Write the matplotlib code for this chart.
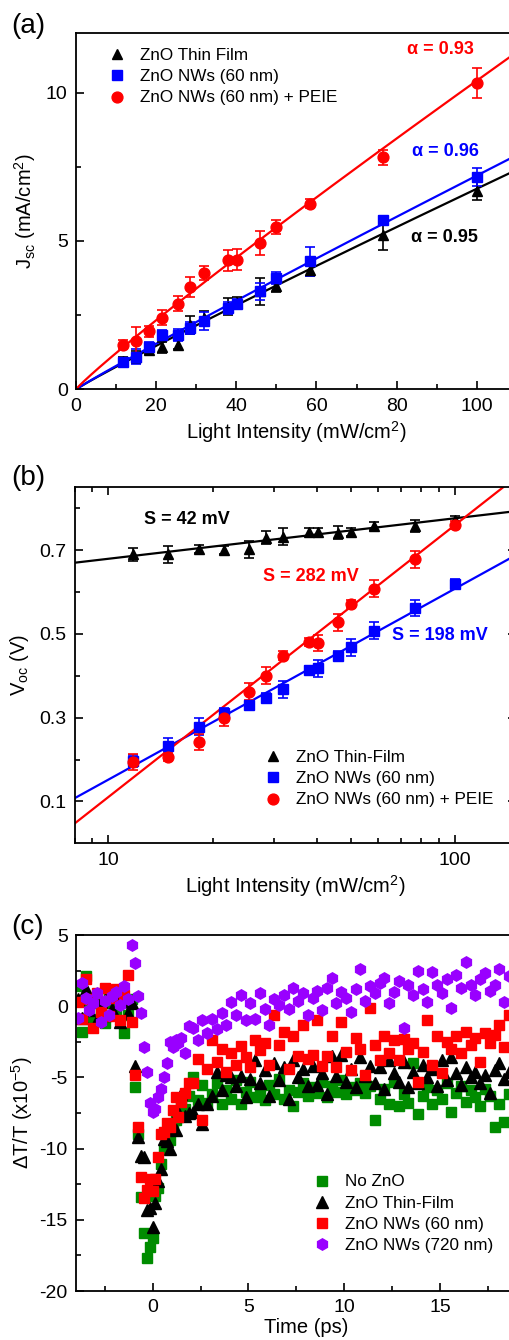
import numpy as np
import matplotlib
matplotlib.use("Agg")
import matplotlib.pyplot as plt
from matplotlib.ticker import MultipleLocator, FixedLocator, NullFormatter, FixedFormatter

plt.rcParams['font.family'] = ['Liberation Sans', 'DejaVu Sans']
plt.rcParams['mathtext.fontset'] = 'custom'
plt.rcParams['mathtext.rm'] = 'Liberation Sans'
plt.rcParams['mathtext.it'] = 'Liberation Sans:italic'
plt.rcParams['mathtext.bf'] = 'Liberation Sans:bold'
plt.rcParams['axes.unicode_minus'] = False

# ---------------- data: panel (a) ----------------
intensity = [11.8, 14.9, 18.3, 21.5, 25.5, 28.5, 32.0, 38.0, 40.2, 46.0, 50.0, 58.5, 76.5, 100.0]
jsc_film = [0.95, 1.10, 1.33, 1.41, 1.50, 2.17, 2.40, 2.79, 2.91, 3.30, 3.47, 4.03, 5.21, 6.68]
jsc_film_err = [0.15, 0.2, 0.15, 0.2, 0.15, 0.3, 0.25, 0.3, 0.2, 0.45, 0.2, 0.2, 0.5, 0.3]
jsc_nw = [0.93, 1.10, 1.44, 1.84, 1.84, 2.06, 2.29, 2.74, 2.88, 3.30, 3.75, 4.31, 5.70, 7.15]
jsc_nw_err = [0.1, 0.25, 0.15, 0.15, 0.2, 0.2, 0.3, 0.2, 0.15, 0.3, 0.2, 0.5, 0.15, 0.3]
jsc_peie = [1.50, 1.64, 1.95, 2.42, 2.88, 3.45, 3.92, 4.35, 4.37, 4.93, 5.47, 6.25, 7.82, 10.32]
jsc_peie_err = [0.15, 0.45, 0.2, 0.25, 0.25, 0.35, 0.25, 0.35, 0.35, 0.4, 0.25, 0.15, 0.25, 0.5]
# power-law fits J = A * P^alpha
alpha_vals = [0.95, 0.96, 0.93]
alpha_pref = [0.0851, 0.0866, 0.1436]

# ---------------- data: panel (b) ----------------
voc_film = [0.690, 0.690, 0.702, 0.700, 0.702, 0.730, 0.732, 0.744, 0.744, 0.742, 0.744, 0.758, 0.758, 0.772]
voc_film_err = [0.015, 0.02, 0.01, 0.01, 0.02, 0.015, 0.02, 0.01, 0.01, 0.015, 0.01, 0.01, 0.015, 0.01]
voc_nw = [0.196, 0.232, 0.278, 0.312, 0.330, 0.348, 0.368, 0.414, 0.418, 0.448, 0.468, 0.508, 0.562, 0.620]
voc_nw_err = [0.015, 0.02, 0.02, 0.01, 0.01, 0.01, 0.02, 0.01, 0.02, 0.01, 0.02, 0.02, 0.02, 0.01]
voc_peie = [0.194, 0.206, 0.242, 0.300, 0.362, 0.400, 0.448, 0.480, 0.478, 0.528, 0.572, 0.608, 0.678, 0.760]
voc_peie_err = [0.02, 0.01, 0.02, 0.02, 0.02, 0.02, 0.01, 0.01, 0.02, 0.02, 0.01, 0.02, 0.02, 0.01]
# fits V = V0 + S ln(I)
slope_S = [0.042, 0.198, 0.282]
slope_V0 = [0.5826, -0.304, -0.539]

# ---------------- data: panel (c) ----------------
t_pre = [-3.9, -3.7, -3.5, -3.3, -3.1, -2.9, -2.7, -2.5, -2.3, -2.1, -1.9, -1.7, -1.5, -1.3, -1.1]
t_dip = [-0.9, -0.75, -0.6, -0.45, -0.3, -0.15, 0.0, 0.15, 0.3, 0.45, 0.6, 0.75, 0.9, 1.05,
         1.2, 1.35, 1.5, 1.7, 1.9]
t_late = [2.1, 2.35, 2.6, 2.85, 3.1, 3.35, 3.6, 3.85, 4.1, 4.35, 4.6, 4.85, 5.1, 5.35, 5.6, 5.85,
          6.1, 6.35, 6.6, 6.85, 7.1, 7.35, 7.6, 7.85, 8.1, 8.35, 8.6, 8.85, 9.1, 9.35, 9.6, 9.85,
          10.1, 10.35, 10.6, 10.85, 11.1, 11.35, 11.6, 11.85, 12.1, 12.35, 12.6, 12.85, 13.1, 13.35,
          13.6, 13.85, 14.1, 14.35, 14.6, 14.85, 15.1, 15.35, 15.6, 15.85, 16.1, 16.35, 16.6, 16.85,
          17.1, 17.35, 17.6, 17.85, 18.1, 18.35, 18.6]

dt_none = ([1.4, -1.8, 2.1, 0.4, -0.9, 0.6, -0.3, -1.2, 0.9, 0.2, -0.4, 1.0, -1.9, -0.6, 0.5]
           + [-5.7, -9.0, -13.4, -15.9, -17.7, -16.9, -16.3, -13.3, -12.8, -11.1, -10.0, -9.6, -9.4,
              -8.7, -8.0, -7.6, -6.9, -7.2, -6.3]
           + [-5.0, -6.6, -5.5, -6.8, -6.2, -5.4, -6.9, -5.9, -6.5, -5.2, -6.9, -6.0, -5.3, -6.4,
              -5.8, -6.6, -5.5, -6.2, -5.1, -6.5, -5.9, -7.0, -6.0, -5.4, -6.3, -5.7, -6.1, -5.3,
              -6.4, -5.6, -6.0, -5.2, -6.2, -5.7, -5.9, -5.4, -6.1, -5.6, -8.0, -6.5, -5.8, -6.9,
              -5.3, -7.0, -6.2, -6.8, -4.0, -7.6, -6.3, -5.7, -6.9, -5.9, -6.5, -5.4, -7.4, -6.1,
              -5.6, -6.7, -5.9, -6.4, -7.0, -5.8, -6.3, -8.5, -6.9, -8.1, -6.2])
dt_film = ([0.5, -0.8, 1.2, -0.3, 0.6, -1.0, 0.3, -0.6, 0.9, -0.2, 0.7, -1.1, 0.4, -0.5, 0.2]
           + [-4.2, -9.2, -10.5, -10.6, -14.3, -14.2, -15.5, -13.8, -12.3, -11.4, -9.3, -9.5,
              -10.0, -8.6, -8.7, -7.4, -6.2, -7.7, -7.5]
           + [-7.4, -6.9, -8.3, -6.9, -6.3, -4.6, -5.9, -4.8, -5.0, -5.6, -4.9, -6.4, -5.1, -3.8,
              -5.4, -4.5, -6.3, -4.0, -5.2, -4.3, -6.5, -3.8, -5.0, -4.4, -5.6, -4.2, -5.5, -4.7,
              -6.2, -3.5, -4.9, -3.4, -5.3, -4.4, -5.7, -3.6, -4.9, -4.2, -5.4, -4.3, -5.8, -3.8,
              -4.7, -5.3, -3.9, -5.7, -4.6, -5.4, -4.1, -5.0, -4.4, -5.6, -3.8, -5.2, -3.6, -4.7,
              -5.5, -4.3, -5.0, -4.6, -5.4, -4.8, -6.1, -4.5, -4.0, -5.1, -4.6])
dt_nw60 = ([0.3, -0.9, 1.9, 0.5, -1.5, 0.9, -0.4, 1.3, -0.7, 0.6, 1.2, -1.0, 0.8, 2.2, -1.1]
           + [-4.8, -8.5, -12.0, -13.5, -12.9, -12.1, -13.0, -12.1, -10.6, -9.0, -8.8, -8.2,
              -8.5, -7.3, -6.4, -7.8, -6.7, -6.1, -5.4]
           + [-5.4, -3.7, -8.0, -4.4, -2.4, -3.9, -3.0, -4.6, -3.3, -4.1, -2.8, -3.6, -4.3, -2.4,
              -3.1, -2.6, -4.1, -0.6, -2.7, -1.8, -4.4, -2.1, -3.5, -1.3, -3.7, -3.4, -1.0, -4.2,
              -3.5, -2.1, -4.3, -1.1, -3.2, -4.5, -2.2, -3.0, -4.8, -0.1, -2.7, -3.8, -2.1, -3.3,
              -2.4, -3.8, -2.3, -3.0, -2.6, -5.3, -3.2, -1.0, -4.1, -2.1, -4.7, -2.5, -3.0, -2.1,
              -3.3, -1.8, -2.7, -2.2, -3.9, -1.9, -2.6, -2.0, -1.3, -2.9, -0.6])
dt_nw720 = ([-0.8, 1.6, 0.6, -0.3, 0.2, 0.9, -1.1, 0.4, -0.6, 0.7, 1.0, 0.1, 1.4, 0.5, 4.3]
            + [3.0, 0.7, -0.5, -2.9, -4.6, -6.8, -7.4, -7.2, -6.4, -5.8, -5.0, -4.0, -2.5, -2.9,
               -2.4, -2.6, -2.2, -3.3, -1.4]
            + [-1.5, -2.4, -1.0, -1.9, -0.9, -1.6, -0.5, -1.3, 0.3, -0.6, 0.8, -1.0, 0.2, -0.9,
               0.9, -0.2, -1.3, 0.5, 0.1, 0.8, -0.2, 1.3, 0.4, 0.9, -0.6, 0.6, 1.1, -0.3, 1.3, 2.0,
               0.2, 1.0, 0.6, -0.4, 1.2, 2.6, 0.4, 1.4, 0.9, 1.6, 2.0, 0.2, 1.0, 1.8, -1.5, 1.5,
               0.8, 2.5, 1.2, 0.3, 2.4, 1.5, 0.9, 1.9, -0.1, 2.2, 1.3, 3.1, 1.5, 0.8, 1.9, 2.3,
               1.1, 1.5, 2.6, 0.3, 2.1])
time_ps = t_pre + t_dip + t_late
time_ticks = [0, 5, 10, 15]

# ---------------- figure ----------------
W, H = 509, 1340
fig = plt.figure(figsize=(W / 100, H / 100), dpi=100)

def ax_rect(l, r, t, b):
    return [l / W, 1 - b / H, (r - l) / W, (b - t) / H]

def fpos(x, y):
    return (x / W, 1 - y / H)

BLACK, BLUE, RED = '#000000', '#0000ff', '#ff0000'
GREEN, PURPLE = '#008c00', '#9900ff'
TFS = 14      # tick labels
LFS = 14.5    # axis labels
GFS = 12.3    # legend
AFS = 13      # annotations

def style(ax, top=False, right=False):
    for s in ax.spines.values():
        s.set_linewidth(1.3)
    ax.tick_params(which='both', direction='in', top=top, right=right, labelsize=TFS, width=1.2)
    ax.tick_params(which='major', length=6, pad=6)
    ax.tick_params(which='minor', length=3.5)

def legend_at(ax, handles, x_marker, y_first, spacing_em=0.38):
    fs_px = GFS * 100 / 72
    hl = 1.0
    x0 = x_marker - hl / 2 * fs_px
    ax.legend(handles=handles, loc='upper left', frameon=False, fontsize=GFS,
              bbox_to_anchor=fpos(x0, y_first - 5.5), bbox_transform=fig.transFigure,
              borderpad=0, borderaxespad=0, handletextpad=0.85, labelspacing=spacing_em,
              handlelength=hl)

# ---- (a)
ax1 = fig.add_axes(ax_rect(76, 516.8, 33.3, 389.3))
style(ax1)
P = np.asarray(intensity)
series_a = [(jsc_film, jsc_film_err, BLACK, '^', 7.5, 'ZnO Thin Film'),
            (jsc_nw, jsc_nw_err, BLUE, 's', 6.8, 'ZnO NWs (60 nm)'),
            (jsc_peie, jsc_peie_err, RED, 'o', 7.8, 'ZnO NWs (60 nm) + PEIE')]
pf = np.linspace(0, 110, 300)
handles = []
for (y, e, c, m, ms, lab), a, A in zip(series_a, alpha_vals, alpha_pref):
    ax1.plot(pf, A * pf ** a, color=c, lw=1.6, zorder=2)
    ax1.errorbar(P, y, yerr=e, fmt='none', ecolor=c, elinewidth=1.2, capsize=3.5, capthick=1.2, zorder=3)
    h, = ax1.plot(P, y, ls='none', marker=m, ms=ms, color=c, mec=c, zorder=4, label=lab)
    handles.append(h)
ax1.set_xlim(0, 110)
ax1.set_ylim(0, 12)
ax1.xaxis.set_major_locator(MultipleLocator(20))
ax1.xaxis.set_minor_locator(MultipleLocator(10))
ax1.yaxis.set_major_locator(MultipleLocator(5))
ax1.yaxis.set_minor_locator(MultipleLocator(2.5))
ax1.set_xlabel('Light Intensity (mW/cm$^2$)', fontsize=LFS, labelpad=3)
ax1.set_ylabel('J$_{\\mathregular{sc}}$ (mA/cm$^2$)', fontsize=LFS, labelpad=6)
legend_at(ax1, handles, 117, 53)
for txt, c, (x, y) in [('α = 0.93', RED, (440, 50)), ('α = 0.96', BLUE, (445.5, 152)),
                       ('α = 0.95', BLACK, (444.5, 237))]:
    fig.text(*fpos(x, y), txt, color=c, fontsize=AFS, fontweight='bold', ha='center', va='center')
fig.text(*fpos(28, 26), '(a)', fontsize=20, ha='center', va='center')

# ---- (b)
ax2 = fig.add_axes(ax_rect(74.7, 515.9, 487.3, 843.3))
style(ax2, top=True, right=True)
series_b = [(voc_film, voc_film_err, BLACK, '^', 7.5, 'ZnO Thin-Film'),
            (voc_nw, voc_nw_err, BLUE, 's', 6.8, 'ZnO NWs (60 nm)'),
            (voc_peie, voc_peie_err, RED, 'o', 7.8, 'ZnO NWs (60 nm) + PEIE')]
If = np.logspace(np.log10(8), np.log10(150), 200)
handles = []
for (y, e, c, m, ms, lab), S, V0 in zip(series_b, slope_S, slope_V0):
    ax2.plot(If, V0 + S * np.log(If), color=c, lw=1.6, zorder=2)
    ax2.errorbar(P, y, yerr=e, fmt='none', ecolor=c, elinewidth=1.2, capsize=3.5, capthick=1.2, zorder=3)
    h, = ax2.plot(P, y, ls='none', marker=m, ms=ms, color=c, mec=c, zorder=4, label=lab)
    handles.append(h)
ax2.set_xscale('log')
ax2.set_xlim(8, 150)
ax2.set_ylim(0.0, 0.85)
ax2.xaxis.set_major_locator(FixedLocator([10, 100]))
ax2.xaxis.set_major_formatter(FixedFormatter(['10', '100']))
ax2.xaxis.set_minor_locator(FixedLocator([8, 9, 20, 30, 40, 50, 60, 70, 80, 90]))
ax2.xaxis.set_minor_formatter(NullFormatter())
ax2.yaxis.set_major_locator(FixedLocator([0.1, 0.3, 0.5, 0.7]))
ax2.yaxis.set_minor_locator(FixedLocator([0.2, 0.4, 0.6, 0.8]))
ax2.set_xlabel('Light Intensity (mW/cm$^2$)', fontsize=LFS, labelpad=3)
ax2.set_ylabel('V$_{\\mathregular{oc}}$ (V)', fontsize=LFS, labelpad=6)
legend_at(ax2, handles, 273, 755)
for txt, c, (x, y) in [('S = 42 mV', BLACK, (186.5, 520)), ('S = 282 mV', RED, (310.5, 577)),
                       ('S = 198 mV', BLUE, (440, 635))]:
    fig.text(*fpos(x, y), txt, color=c, fontsize=AFS, fontweight='bold', ha='center', va='center')
fig.text(*fpos(28, 478), '(b)', fontsize=20, ha='center', va='center')

# ---- (c)
ax3 = fig.add_axes(ax_rect(76, 535.7, 935, 1291))
style(ax3)
series_c = [(dt_none, GREEN, 's', 6.6, 'No ZnO'),
            (dt_film, BLACK, '^', 8.0, 'ZnO Thin-Film'),
            (dt_nw60, RED, 's', 6.6, 'ZnO NWs (60 nm)'),
            (dt_nw720, PURPLE, 'h', 8.2, 'ZnO NWs (720 nm)')]
handles = []
for y, c, m, ms, lab in series_c:
    h, = ax3.plot(time_ps, y, ls='none', marker=m, ms=ms, color=c, mec=c, label=lab)
    handles.append(h)
ax3.set_xlim(-4, 20)
ax3.set_ylim(-20, 5)
ax3.xaxis.set_major_locator(FixedLocator(time_ticks))
ax3.xaxis.set_minor_locator(MultipleLocator(2.5))
ax3.yaxis.set_major_locator(MultipleLocator(5))
ax3.yaxis.set_minor_locator(MultipleLocator(2.5))
ax3.set_xlabel('Time (ps)', fontsize=LFS, labelpad=1)
ax3.set_ylabel('ΔT/T (x10$^{-5}$)', fontsize=LFS, labelpad=3)
legend_at(ax3, handles, 321.7, 1180, spacing_em=0.36)
fig.text(*fpos(28, 927), '(c)', fontsize=20, ha='center', va='center')

fig.savefig('out.png', dpi=100)
